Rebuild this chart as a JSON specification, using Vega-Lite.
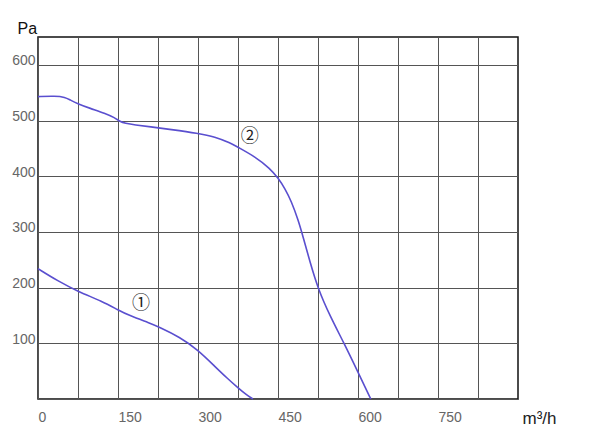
{
  "$schema": "https://vega.github.io/schema/vega-lite/v6.json",
  "width": 480,
  "height": 362,
  "autosize": {"type": "none"},
  "padding": {"left": 38, "top": 37, "right": 82, "bottom": 48},
  "background": "white",
  "config": {
    "view": {"stroke": "#111", "strokeWidth": 1.5},
    "font": "Liberation Sans"
  },
  "datasets": {
    "curves": [
      {"curve": "1", "flow": 0, "pressure": 234},
      {"curve": "1", "flow": 37, "pressure": 212},
      {"curve": "1", "flow": 75, "pressure": 193},
      {"curve": "1", "flow": 121, "pressure": 175},
      {"curve": "1", "flow": 150, "pressure": 160},
      {"curve": "1", "flow": 171, "pressure": 150},
      {"curve": "1", "flow": 210, "pressure": 136},
      {"curve": "1", "flow": 225, "pressure": 130},
      {"curve": "1", "flow": 266, "pressure": 111},
      {"curve": "1", "flow": 300, "pressure": 88},
      {"curve": "1", "flow": 332, "pressure": 58},
      {"curve": "1", "flow": 355, "pressure": 37},
      {"curve": "1", "flow": 375, "pressure": 20},
      {"curve": "1", "flow": 390, "pressure": 8},
      {"curve": "1", "flow": 403, "pressure": 0},
      {"curve": "2", "flow": 0, "pressure": 543},
      {"curve": "2", "flow": 32, "pressure": 544},
      {"curve": "2", "flow": 51, "pressure": 542},
      {"curve": "2", "flow": 60, "pressure": 537},
      {"curve": "2", "flow": 75, "pressure": 530},
      {"curve": "2", "flow": 97, "pressure": 522},
      {"curve": "2", "flow": 126, "pressure": 513},
      {"curve": "2", "flow": 144, "pressure": 505},
      {"curve": "2", "flow": 154, "pressure": 498},
      {"curve": "2", "flow": 163, "pressure": 495},
      {"curve": "2", "flow": 182, "pressure": 492},
      {"curve": "2", "flow": 210, "pressure": 489},
      {"curve": "2", "flow": 248, "pressure": 484},
      {"curve": "2", "flow": 300, "pressure": 477},
      {"curve": "2", "flow": 332, "pressure": 471},
      {"curve": "2", "flow": 360, "pressure": 460},
      {"curve": "2", "flow": 375, "pressure": 452},
      {"curve": "2", "flow": 407, "pressure": 435},
      {"curve": "2", "flow": 435, "pressure": 414},
      {"curve": "2", "flow": 450, "pressure": 397},
      {"curve": "2", "flow": 463, "pressure": 378},
      {"curve": "2", "flow": 475, "pressure": 355},
      {"curve": "2", "flow": 488, "pressure": 321},
      {"curve": "2", "flow": 497, "pressure": 291},
      {"curve": "2", "flow": 510, "pressure": 246},
      {"curve": "2", "flow": 525, "pressure": 198},
      {"curve": "2", "flow": 548, "pressure": 148},
      {"curve": "2", "flow": 574, "pressure": 100},
      {"curve": "2", "flow": 600, "pressure": 48},
      {"curve": "2", "flow": 624, "pressure": 0}
    ],
    "labels": [
      {"flow": 193, "pressure": 171, "label": "①"},
      {"flow": 397, "pressure": 470, "label": "②"}
    ]
  },
  "layer": [
    {
      "data": {"name": "curves"},
      "mark": {"type": "line", "interpolate": "basis", "strokeWidth": 1.6, "color": "#5a4fcf"},
      "encoding": {
        "x": {
          "field": "flow", "type": "quantitative",
          "scale": {"domain": [0, 900], "nice": false, "zero": false},
          "axis": {
            "values": [0, 75, 150, 225, 300, 375, 450, 525, 600, 675, 750, 825],
            "grid": true, "gridColor": "#555", "gridWidth": 1, "gridOpacity": 1,
            "domain": false, "ticks": false,
            "labelExpr": "datum.value % 150 === 0 ? datum.label : ''",
            "format": "d",
            "labelAlign": "left", "labelDx": 2, "labelBaseline": "top", "labelPadding": 11,
            "labelFlush": false, "labelOverlap": false,
            "labelColor": "#666", "labelFontSize": 14,
            "title": "m³/h", "titleX": 484, "titleY": 24, "titleAlign": "left",
            "titleBaseline": "alphabetic", "titleFontSize": 17, "titleFontWeight": "normal",
            "titleColor": "#222", "titleAnchor": null
          }
        },
        "y": {
          "field": "pressure", "type": "quantitative",
          "scale": {"domain": [0, 650], "nice": false, "zero": false},
          "axis": {
            "values": [0, 50, 100, 150, 200, 250, 300, 350, 400, 450, 500, 550, 600],
            "grid": true, "gridColor": "#555", "gridWidth": 1, "gridOpacity": 1,
            "domain": false, "ticks": false,
            "labelExpr": "datum.value % 100 === 0 && datum.value > 0 ? datum.label : ''",
            "format": "d",
            "labelAlign": "right", "labelBaseline": "alphabetic", "labelDy": -3, "labelPadding": 3,
            "labelFlush": false, "labelOverlap": false,
            "labelColor": "#666", "labelFontSize": 14,
            "title": "Pa", "titleAngle": 0, "titleX": -21, "titleY": -4, "titleAlign": "left",
            "titleBaseline": "alphabetic", "titleFontSize": 16, "titleFontWeight": "normal",
            "titleColor": "#111", "titleAnchor": null
          }
        },
        "detail": {"field": "curve"}
      }
    },
    {
      "data": {"name": "labels"},
      "mark": {"type": "text", "font": "Noto Sans CJK SC", "fontSize": 18, "color": "#222"},
      "encoding": {
        "x": {"field": "flow", "type": "quantitative"},
        "y": {"field": "pressure", "type": "quantitative"},
        "text": {"field": "label"}
      }
    }
  ]
}
